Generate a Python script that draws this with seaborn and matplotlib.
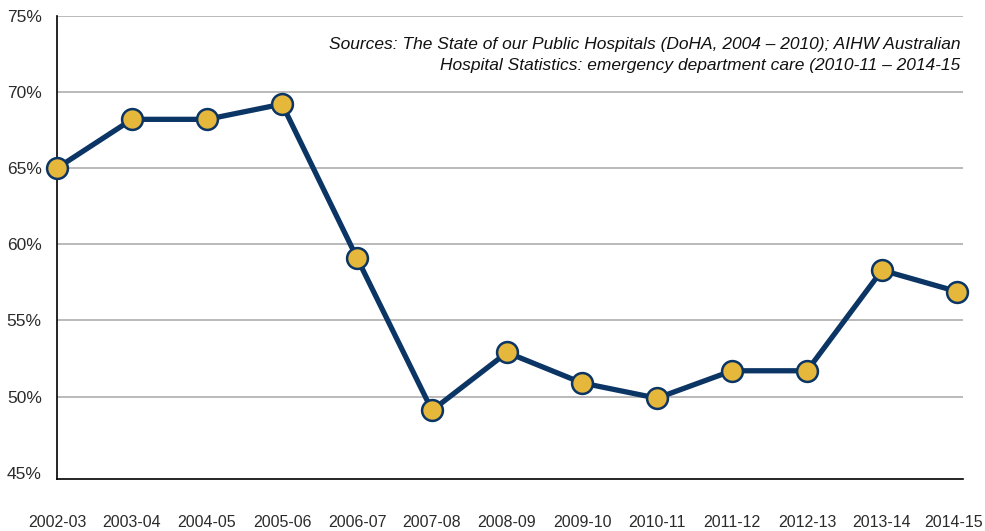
import pandas as pd
import seaborn as sns
import matplotlib.pyplot as plt
import matplotlib.transforms as mtransforms
from matplotlib.ticker import FuncFormatter

years = ["2002-03", "2003-04", "2004-05", "2005-06", "2006-07", "2007-08", "2008-09",
         "2009-10", "2010-11", "2011-12", "2012-13", "2013-14", "2014-15"]
pct = [65.0, 68.2, 68.2, 69.2, 59.1, 49.1, 52.9, 50.9, 49.9, 51.7, 51.7, 58.3, 56.9]

source_note = ("Sources: The State of our Public Hospitals (DoHA, 2004 \u2013 2010); AIHW Australian\n"
               "Hospital Statistics: emergency department care (2010-11 \u2013 2014-15")

NAVY = "#0b3564"
GOLD = "#e5b73b"
GRID = "#b4b4b4"
TEXT = "#2b2b2b"

sns.set_style("white")
plt.rcParams["font.family"] = ["Liberation Sans Narrow", "Liberation Sans", "DejaVu Sans"]

df = pd.DataFrame({"year": years, "pct": pct})

fig = plt.figure(figsize=(9.85, 5.31), dpi=100)
ax = fig.add_axes([0.0579, 0.098, 0.9198, 0.8724])

sns.lineplot(data=df, x="year", y="pct", ax=ax, sort=False, color=NAVY, linewidth=3.8,
             marker="o", markersize=15, markerfacecolor=GOLD, markeredgecolor=NAVY,
             markeredgewidth=1.8, zorder=3, clip_on=False)

ax.set_ylim(44.6, 75)
ax.set_xlim(0, 12.08)
ax.set_yticks([45, 50, 55, 60, 65, 70, 75])
ax.yaxis.set_major_formatter(FuncFormatter(lambda v, _: f"{v:.0f}%"))
ax.grid(axis="y", color=GRID, linewidth=1.3)
ax.get_ygridlines()[0].set_visible(False)
ax.set_axisbelow(True)

for side in ["top", "right"]:
    ax.spines[side].set_visible(False)
for side in ["left", "bottom"]:
    ax.spines[side].set_color("black")
    ax.spines[side].set_linewidth(1.2)

ax.tick_params(axis="y", direction="out", length=5, width=1.2, color=GRID,
               labelsize=12.5, labelcolor=TEXT, pad=6)
ax.tick_params(axis="x", direction="inout", length=12, width=1.2, color="black",
               labelsize=11.5, labelcolor=TEXT, pad=20)
ax.set_xlabel("")
ax.set_ylabel("")

# last year label sits hard against the right edge, nudge it in a little
last = ax.get_xticklabels()[-1]
last.set_transform(last.get_transform() + mtransforms.ScaledTranslation(-3 / 100, 0, fig.dpi_scale_trans))

ax.text(0.997, 0.955, source_note, transform=ax.transAxes, ha="right", va="top",
        fontsize=12.5, style="italic", color="#111111", linespacing=1.5)

fig.savefig("out.png", dpi=100)
